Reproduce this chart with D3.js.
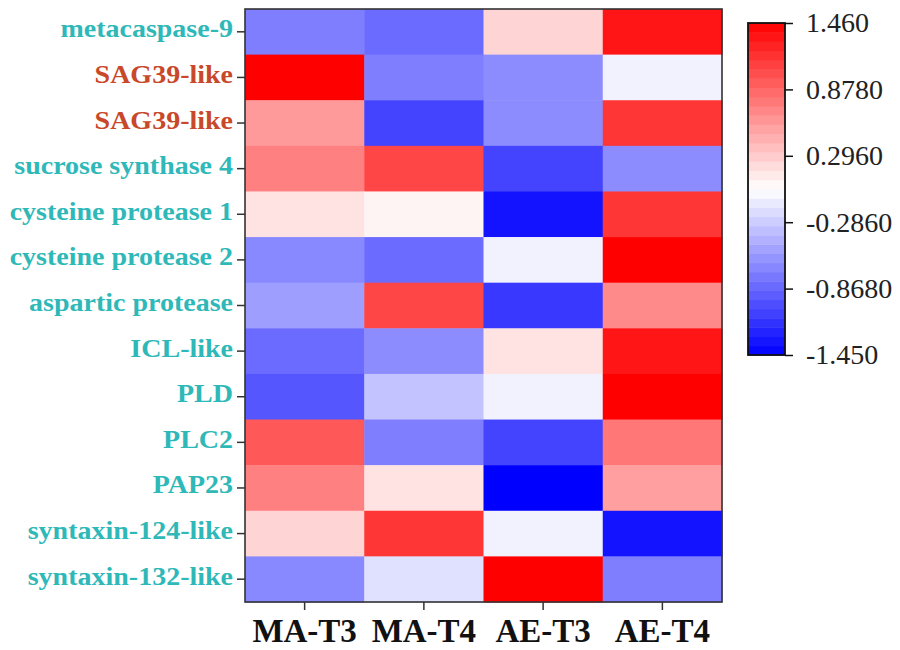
<!DOCTYPE html>
<html>
<head>
<meta charset="utf-8">
<script src="https://cdn.jsdelivr.net/npm/d3@7"></script>
<style>
  body { margin: 0; background: #fff; }
  svg { display: block; }
  svg text { font-family: "Liberation Serif", "Times New Roman", Times, serif; }
</style>
</head>
<body>
<svg id="chart" width="900" height="650"></svg>
<script>
// ── Data ─────────────────────────────────────────────────────────────────────
const genes = [
  "metacaspase-9", "SAG39-like", "SAG39-like#2", "sucrose synthase 4",
  "cysteine protease 1", "cysteine protease 2", "aspartic protease",
  "ICL-like", "PLD", "PLC2", "PAP23", "syntaxin-124-like", "syntaxin-132-like"
];
const redGenes = ["SAG39-like", "SAG39-like#2"];
const samples = ["MA-T3", "MA-T4", "AE-T3", "AE-T4"];

// z-score per gene, columns follow `samples`
const maT3 = [-0.73,  1.46,  0.58,  0.73,  0.17, -0.67, -0.55, -0.84, -0.96,  0.96,  0.73,  0.25, -0.67];
const maT4 = [-0.84, -0.73, -1.06,  1.06,  0.07, -0.84,  1.06, -0.65, -0.34, -0.73,  0.17,  1.15, -0.17];
const aeT3 = [ 0.25, -0.65, -0.65, -1.06, -1.34, -0.07, -1.13,  0.17, -0.07, -1.06, -1.45, -0.07,  1.46];
const aeT4 = [ 1.34, -0.07,  1.15, -0.65,  1.15,  1.46,  0.67,  1.34,  1.46,  0.78,  0.55, -1.34, -0.73];

const legendTicks  = [1.46, 0.878, 0.296, -0.286, -0.868, -1.45];
const legendLabels = ["1.460", "0.8780", "0.2960", "-0.2860", "-0.8680", "-1.450"];
const zMin = -1.45, zMax = 1.46;

// ── Layout ───────────────────────────────────────────────────────────────────
const plot = { x0: 245, x1: 722, y0: 9, y1: 602 };
const leg  = { x0: 748, x1: 785, y0: 23, y1: 355, levels: 36 };
const TEAL = "#2fb8b8", RUST = "#c8482a";
const labelStretch = 1.12;
const FONT = '"Liberation Serif", "Times New Roman", Times, serif';

const svg = d3.select("#chart");

const x = d3.scaleBand().domain(samples).range([plot.x0, plot.x1]);
const y = d3.scaleBand().domain(genes).range([plot.y0, plot.y1]);
const color = d3.scaleLinear()
  .domain([zMin, (zMin + zMax) / 2, zMax])
  .range(["#0000ff", "#ffffff", "#ff0000"]);

const cols = [maT3, maT4, aeT3, aeT4];
const cells = [];
genes.forEach((g, i) => samples.forEach((s, j) => cells.push({ gene: g, sample: s, v: cols[j][i] })));

svg.append("g").selectAll("rect")
  .data(cells)
  .join("rect")
  .attr("x", d => x(d.sample))
  .attr("y", d => y(d.gene))
  .attr("width", x.bandwidth() + 0.5)
  .attr("height", y.bandwidth() + 0.5)
  .attr("fill", d => color(d.v));

// frame
svg.append("rect")
  .attr("x", plot.x0).attr("y", plot.y0)
  .attr("width", plot.x1 - plot.x0).attr("height", plot.y1 - plot.y0)
  .attr("fill", "none").attr("stroke", "#333").attr("stroke-width", 1.6);

// ── Y axis (gene names) ──────────────────────────────────────────────────────
const yAx = svg.append("g")
  .attr("transform", `translate(${plot.x0},0)`)
  .call(d3.axisLeft(y).tickSize(8).tickPadding(4).tickFormat(d => d.replace(/#\d+$/, "")));
yAx.attr("font-family", null).style("font-family", FONT);
yAx.select(".domain").remove();
yAx.selectAll(".tick line").attr("stroke", "#333").attr("stroke-width", 1.5);
yAx.selectAll(".tick text")
  .style("font-family", FONT)
  .style("font-weight", "bold")
  .style("font-size", "25px")
  .attr("fill", d => redGenes.includes(d) ? RUST : TEAL)
  .attr("x", -12 / labelStretch)
  .attr("dy", "0.22em")
  .attr("transform", `scale(${labelStretch},1)`);

// ── X axis (samples) ─────────────────────────────────────────────────────────
const xAx = svg.append("g")
  .attr("transform", `translate(0,${plot.y1})`)
  .call(d3.axisBottom(x).tickSize(8).tickPadding(9));
xAx.attr("font-family", null).style("font-family", FONT);
xAx.select(".domain").remove();
xAx.selectAll(".tick line").attr("stroke", "#333").attr("stroke-width", 1.5);
xAx.selectAll(".tick text")
  .style("font-family", FONT)
  .style("font-weight", "bold")
  .style("font-size", "33px")
  .attr("fill", "#111");

// ── Colour legend ────────────────────────────────────────────────────────────
const ly = d3.scaleLinear().domain([zMin, zMax]).range([leg.y1, leg.y0]);
const step = (zMax - zMin) / leg.levels;
const bands = d3.range(leg.levels).map(i => zMin + i * step);

svg.append("g").selectAll("rect")
  .data(bands)
  .join("rect")
  .attr("x", leg.x0)
  .attr("y", d => ly(d + step))
  .attr("width", leg.x1 - leg.x0)
  .attr("height", d => ly(d) - ly(d + step) + 0.5)
  .attr("fill", d => color(d + step / 2));

svg.append("rect")
  .attr("x", leg.x0).attr("y", leg.y0)
  .attr("width", leg.x1 - leg.x0).attr("height", leg.y1 - leg.y0)
  .attr("fill", "none").attr("stroke", "#111").attr("stroke-width", 1.8);

const lAx = svg.append("g")
  .attr("transform", `translate(${leg.x1},0)`)
  .call(d3.axisRight(ly).tickValues(legendTicks).tickSize(8).tickPadding(13)
    .tickFormat((d, i) => legendLabels[i]));
lAx.attr("font-family", null).style("font-family", FONT);
lAx.select(".domain").remove();
lAx.selectAll(".tick line").attr("stroke", "#111").attr("stroke-width", 1.5);
lAx.selectAll(".tick text")
  .style("font-family", FONT)
  .style("font-size", "28px")
  .attr("fill", "#222");
</script>
</body>
</html>
